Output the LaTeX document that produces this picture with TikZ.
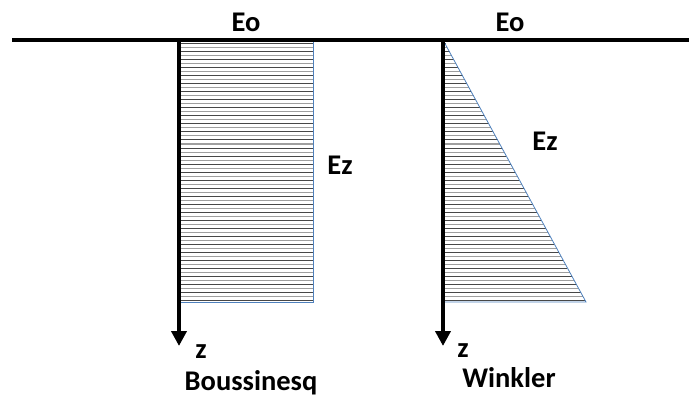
\documentclass[tikz,border=0pt]{standalone}
\usepackage{fontspec}
\setmainfont{Carlito}
\usetikzlibrary{arrows.meta}
\definecolor{edgeblue}{RGB}{79,129,189}
\begin{document}
\begin{tikzpicture}[x=1pt,y=-1pt,
  lbl/.style={font=\fontsize{28.5}{31}\selectfont\bfseries, anchor=base, inner sep=0pt},
  ground/.style={line width=4.5pt, black},
  zaxis/.style={line width=4pt, black, -{Triangle[length=15pt,width=15pt]}},
  edge/.style={edgeblue, line width=0.8pt},
  hatchA/.style={black!72, line width=1pt},
  hatchB/.style={black!38, line width=1pt}]
\useasboundingbox (0,0) rectangle (689,396);
% key points
\coordinate (gl) at (12,40);
\coordinate (gr) at (689,40);
\coordinate (bTL) at (179,40);
\coordinate (bTR) at (313,40);
\coordinate (bBR) at (313,302);
\coordinate (bBL) at (179,302);
\coordinate (bTip) at (179,346);
\coordinate (wT) at (443,40);
\coordinate (wBR) at (586,302);
\coordinate (wBL) at (443,302);
\coordinate (wTip) at (443,346);
% Boussinesq hatching
\foreach \y [count=\i] in {44,48,...,300} {
  \ifodd\i
    \draw[hatchA] (181,\y) -- (313,\y);
  \else
    \draw[hatchB] (181,\y) -- (313,\y);
  \fi
}
\draw[edge] (bTL) -- (bTR) -- (bBR) -- (bBL);
% Winkler hatching
\foreach \y [count=\i] in {44,48,...,300} {
  \pgfmathsetmacro{\xr}{443+(\y-40)/262*143}
  \ifodd\i
    \draw[hatchA] (445,\y) -- (\xr,\y);
  \else
    \draw[hatchB] (445,\y) -- (\xr,\y);
  \fi
}
\draw[edge] (wT) -- (wBR) -- (wBL);
% ground line and axes
\draw[ground] (gl) -- (gr);
\draw[zaxis] (bTL) -- (bTip);
\draw[zaxis] (wT) -- (wTip);
% labels
\node[lbl] (eo1) at (246,32) {Eo};
\node[lbl] (eo2) at (510,32) {Eo};
\node[lbl] (ez1) at (340,175) {Ez};
\node[lbl] (ez2) at (545,150) {Ez};
\node[lbl] (z1) at (201,358) {z};
\node[lbl] (z2) at (463,357) {z};
\node[lbl] (bou) at (251,390) {Boussinesq};
\node[lbl] (win) at (509,387) {Winkler};
\end{tikzpicture}
\end{document}
